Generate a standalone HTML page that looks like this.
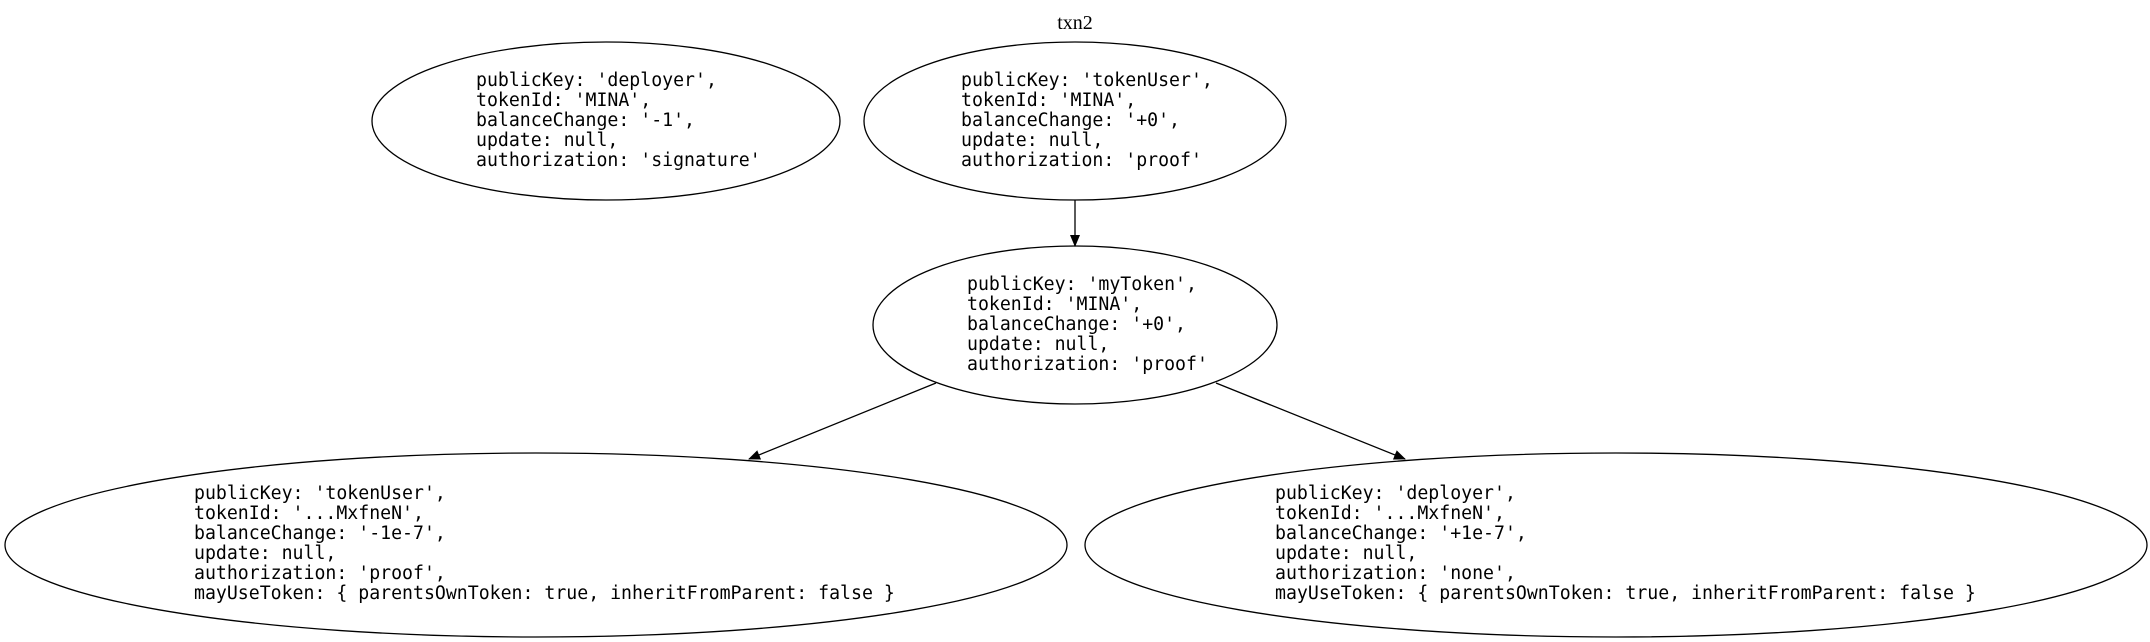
<!DOCTYPE html>
<html><head><meta charset="utf-8"><style>
html,body{margin:0;padding:0;background:#fff;}
svg{display:block}
.m{font-family:"DejaVu Sans Mono","Liberation Mono",monospace;font-size:18.2px;fill:#000}
</style></head><body>
<svg width="2150" height="642" viewBox="0 0 2150 642" xmlns="http://www.w3.org/2000/svg">
<defs><marker id="a" markerWidth="12" markerHeight="10" refX="11" refY="5" orient="auto" markerUnits="userSpaceOnUse"><path d="M0,0 L12,5 L0,10 z" fill="#000"/></marker></defs>
<text x="1075" y="29" text-anchor="middle" font-family="Liberation Serif,serif" font-size="20">txn2</text>
<g fill="none" stroke="#000" stroke-width="1.3">
<ellipse cx="606" cy="121" rx="234" ry="79"/>
<ellipse cx="1075" cy="121" rx="211" ry="79"/>
<ellipse cx="1075" cy="325" rx="202" ry="79"/>
<ellipse cx="536" cy="545" rx="531" ry="92"/>
<ellipse cx="1616" cy="545" rx="531" ry="92"/>
<line x1="1075" y1="200" x2="1075" y2="246" marker-end="url(#a)"/>
<line x1="936" y1="383" x2="749" y2="459" marker-end="url(#a)"/>
<line x1="1216" y1="383" x2="1405" y2="459" marker-end="url(#a)"/>
</g>
<text class="m" x="476" y="86"><tspan x="476">publicKey: 'deployer',</tspan><tspan x="476" dy="20">tokenId: 'MINA',</tspan><tspan x="476" dy="20">balanceChange: '-1',</tspan><tspan x="476" dy="20">update: null,</tspan><tspan x="476" dy="20">authorization: 'signature'</tspan></text>
<text class="m" x="961" y="86"><tspan x="961">publicKey: 'tokenUser',</tspan><tspan x="961" dy="20">tokenId: 'MINA',</tspan><tspan x="961" dy="20">balanceChange: '+0',</tspan><tspan x="961" dy="20">update: null,</tspan><tspan x="961" dy="20">authorization: 'proof'</tspan></text>
<text class="m" x="967" y="290"><tspan x="967">publicKey: 'myToken',</tspan><tspan x="967" dy="20">tokenId: 'MINA',</tspan><tspan x="967" dy="20">balanceChange: '+0',</tspan><tspan x="967" dy="20">update: null,</tspan><tspan x="967" dy="20">authorization: 'proof'</tspan></text>
<text class="m" x="194" y="499"><tspan x="194">publicKey: 'tokenUser',</tspan><tspan x="194" dy="20">tokenId: '...MxfneN',</tspan><tspan x="194" dy="20">balanceChange: '-1e-7',</tspan><tspan x="194" dy="20">update: null,</tspan><tspan x="194" dy="20">authorization: 'proof',</tspan><tspan x="194" dy="20">mayUseToken: { parentsOwnToken: true, inheritFromParent: false }</tspan></text>
<text class="m" x="1275" y="499"><tspan x="1275">publicKey: 'deployer',</tspan><tspan x="1275" dy="20">tokenId: '...MxfneN',</tspan><tspan x="1275" dy="20">balanceChange: '+1e-7',</tspan><tspan x="1275" dy="20">update: null,</tspan><tspan x="1275" dy="20">authorization: 'none',</tspan><tspan x="1275" dy="20">mayUseToken: { parentsOwnToken: true, inheritFromParent: false }</tspan></text>
</svg>
</body></html>
